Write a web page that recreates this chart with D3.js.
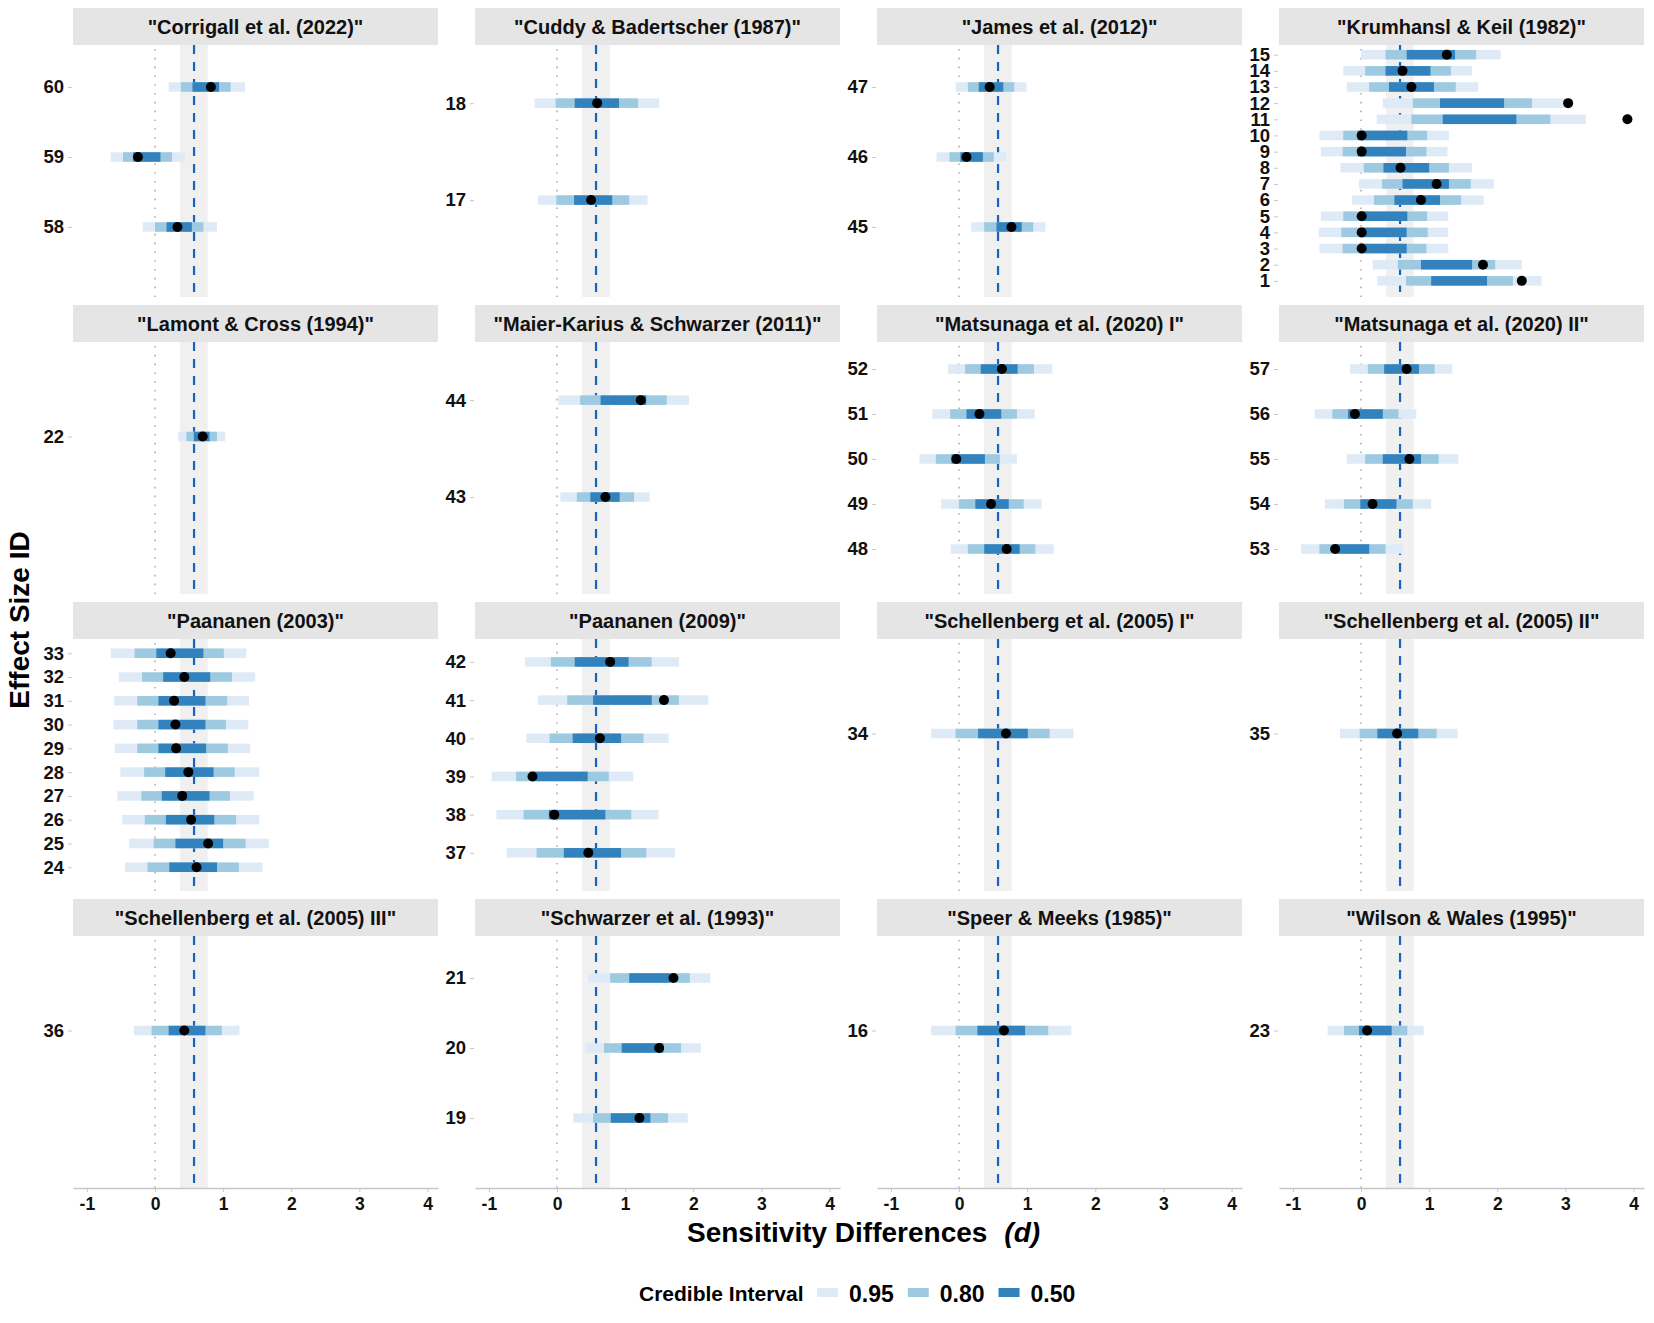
<!DOCTYPE html>
<html>
<head>
<meta charset="utf-8">
<script src="https://cdn.jsdelivr.net/npm/d3@7"></script>
<style>
  body { margin: 0; background: #fff; }
  svg { font-family: "Liberation Sans", Arial, sans-serif; font-weight: bold; }
</style>
</head>
<body>
<svg width="1654" height="1323"></svg>
<script>
// facet panels, in the order they are laid out (4 per row)
var studies = ["Corrigall et al. (2022)", "Cuddy & Badertscher (1987)", "James et al. (2012)", "Krumhansl & Keil (1982)",
               "Lamont & Cross (1994)", "Maier-Karius & Schwarzer (2011)", "Matsunaga et al. (2020) I", "Matsunaga et al. (2020) II",
               "Paananen (2003)", "Paananen (2009)", "Schellenberg et al. (2005) I", "Schellenberg et al. (2005) II",
               "Schellenberg et al. (2005) III", "Schwarzer et al. (1993)", "Speer & Meeks (1985)", "Wilson & Wales (1995)"];

// effect sizes 1..60
var effectId = [1, 2, 3, 4, 5, 6, 7, 8, 9, 10, 11, 12, 13, 14, 15, 16, 17, 18, 19, 20,
                21, 22, 23, 24, 25, 26, 27, 28, 29, 30, 31, 32, 33, 34, 35, 36, 37, 38, 39, 40,
                41, 42, 43, 44, 45, 46, 47, 48, 49, 50, 51, 52, 53, 54, 55, 56, 57, 58, 59, 60];
// index into studies
var effectStudy = [3, 3, 3, 3, 3, 3, 3, 3, 3, 3, 3, 3, 3, 3, 3, 14, 1, 1, 13, 13,
                   13, 4, 15, 8, 8, 8, 8, 8, 8, 8, 8, 8, 8, 10, 11, 12, 9, 9, 9, 9,
                   9, 9, 5, 5, 2, 2, 2, 6, 6, 6, 6, 6, 7, 7, 7, 7, 7, 0, 0, 0];

var pointEst = [2.36, 1.79, 0.01, 0.01, 0.01, 0.88, 1.11, 0.58, 0.01, 0.01, 3.91, 3.04, 0.74, 0.61, 1.26, 0.66, 0.50, 0.59, 1.21, 1.50,
                1.71, 0.70, 0.09, 0.61, 0.78, 0.53, 0.40, 0.49, 0.31, 0.30, 0.28, 0.43, 0.23, 0.69, 0.53, 0.43, 0.46, -0.04, -0.36, 0.63,
                1.57, 0.78, 0.71, 1.23, 0.77, 0.11, 0.45, 0.70, 0.47, -0.04, 0.30, 0.63, -0.38, 0.17, 0.71, -0.09, 0.67, 0.33, -0.25, 0.82];
var lo95 = [0.24, 0.17, -0.61, -0.62, -0.59, -0.13, -0.03, -0.30, -0.59, -0.61, 0.23, 0.32, -0.21, -0.26, 0.00, -0.41, -0.28, -0.33, 0.24, 0.41,
            0.46, 0.34, -0.49, -0.44, -0.38, -0.48, -0.55, -0.51, -0.59, -0.61, -0.60, -0.53, -0.65, -0.41, -0.31, -0.31, -0.74, -0.89, -0.96, -0.45,
            -0.28, -0.47, 0.05, 0.02, 0.18, -0.33, -0.05, -0.12, -0.26, -0.58, -0.39, -0.16, -0.88, -0.53, -0.21, -0.68, -0.16, -0.18, -0.65, 0.20];
var hi95 = [2.65, 2.36, 1.28, 1.28, 1.28, 1.80, 1.95, 1.63, 1.27, 1.29, 3.30, 3.01, 1.72, 1.63, 2.05, 1.65, 1.33, 1.50, 1.92, 2.11,
            2.25, 1.03, 0.92, 1.58, 1.67, 1.53, 1.45, 1.53, 1.40, 1.37, 1.38, 1.47, 1.34, 1.68, 1.42, 1.24, 1.73, 1.49, 1.12, 1.64,
            2.22, 1.79, 1.36, 1.94, 1.27, 0.69, 0.99, 1.39, 1.21, 0.85, 1.11, 1.37, 0.61, 1.03, 1.43, 0.81, 1.34, 0.91, 0.44, 1.32];
var lo80 = [0.66, 0.54, -0.27, -0.29, -0.26, 0.19, 0.31, 0.04, -0.27, -0.26, 0.74, 0.76, 0.12, 0.06, 0.36, -0.05, -0.01, -0.02, 0.53, 0.69,
            0.78, 0.46, -0.25, -0.11, -0.02, -0.15, -0.20, -0.16, -0.26, -0.26, -0.26, -0.19, -0.30, -0.05, -0.02, -0.05, -0.30, -0.49, -0.60, -0.11,
            0.15, -0.09, 0.29, 0.34, 0.37, -0.14, 0.13, 0.13, 0.00, -0.34, -0.13, 0.09, -0.61, -0.25, 0.06, -0.42, 0.10, 0.00, -0.47, 0.38];
var hi80 = [2.23, 1.97, 0.96, 0.98, 0.97, 1.47, 1.61, 1.29, 0.96, 0.97, 2.78, 2.51, 1.39, 1.32, 1.69, 1.31, 1.06, 1.19, 1.63, 1.82,
            1.95, 0.91, 0.68, 1.23, 1.33, 1.19, 1.10, 1.17, 1.07, 1.04, 1.06, 1.13, 1.01, 1.33, 1.11, 0.98, 1.31, 1.09, 0.76, 1.27,
            1.79, 1.39, 1.13, 1.61, 1.09, 0.51, 0.81, 1.12, 0.95, 0.60, 0.85, 1.10, 0.36, 0.76, 1.14, 0.55, 1.08, 0.71, 0.25, 1.11];
var lo50 = [1.03, 0.88, -0.02, -0.02, -0.02, 0.49, 0.61, 0.33, -0.05, -0.05, 1.20, 1.16, 0.41, 0.36, 0.67, 0.27, 0.25, 0.26, 0.79, 0.95,
            1.06, 0.57, -0.03, 0.21, 0.30, 0.16, 0.10, 0.15, 0.05, 0.05, 0.05, 0.12, 0.02, 0.28, 0.24, 0.20, 0.10, -0.12, -0.35, 0.23,
            0.53, 0.26, 0.49, 0.64, 0.55, 0.02, 0.29, 0.37, 0.24, -0.11, 0.11, 0.32, -0.38, -0.01, 0.32, -0.19, 0.34, 0.17, -0.32, 0.55];
var hi50 = [1.85, 1.63, 0.67, 0.67, 0.68, 1.16, 1.29, 1.00, 0.66, 0.68, 2.28, 2.10, 1.07, 1.02, 1.38, 0.97, 0.81, 0.91, 1.37, 1.56,
            1.66, 0.80, 0.45, 0.91, 1.00, 0.87, 0.80, 0.86, 0.75, 0.74, 0.74, 0.81, 0.71, 1.01, 0.84, 0.74, 0.94, 0.71, 0.45, 0.94,
            1.39, 1.05, 0.92, 1.31, 0.92, 0.35, 0.65, 0.89, 0.73, 0.38, 0.62, 0.86, 0.12, 0.52, 0.88, 0.32, 0.85, 0.54, 0.08, 0.94];

// pooled estimate and its interval (grey band + dashed line)
var pooledMean = 0.573, pooledLo = 0.367, pooledHi = 0.774;

var xTicks = [-1, 0, 1, 2, 3, 4];
var levels = ["0.95", "0.80", "0.50"];
var levelColors = ["#deebf7", "#9ecae1", "#3182bd"];

function main() {
    var svg = d3.select("svg");

    var colLeft = [73, 475, 877, 1279],
        rowTop = [8, 305, 602, 899],
        panelW = 365, stripH = 37, panelH = 252,
        barH = 9.5;

    var effects = effectId.map(function(id, i) {
        return {
            id: id,
            study: effectStudy[i],
            pt: pointEst[i],
            lo: [lo95[i], lo80[i], lo50[i]],
            hi: [hi95[i], hi80[i], hi50[i]]
        };
    });

    // shared x scale, 5% expansion like ggplot
    var xMin = d3.min(lo95),
        xMax = d3.max(pointEst.concat(hi95)),
        pad = (xMax - xMin) * 0.05;
    var x = d3.scaleLinear().domain([xMin - pad, xMax + pad]).range([0, panelW]);

    studies.forEach(function(name, s) {
        var col = s % 4, row = Math.floor(s / 4);
        var g = svg.append("g")
                   .attr("transform", "translate(" + colLeft[col] + "," + rowTop[row] + ")");

        // strip
        g.append("rect")
         .attr("width", panelW).attr("height", stripH)
         .attr("fill", "#e5e5e5");
        g.append("text")
         .attr("x", panelW / 2).attr("y", 26)
         .attr("text-anchor", "middle")
         .attr("font-size", 20)
         .attr("fill", "#111")
         .text('"' + name + '"');

        var p = g.append("g").attr("transform", "translate(0," + stripH + ")");

        var rows = effects.filter(function(d) { return d.study === s; })
                          .sort(function(a, b) { return a.id - b.id; });

        // free discrete y: 1 unit of space below the lowest id, 0.6 above the highest
        var y = d3.scaleLinear().domain([-1, rows.length - 0.4]).range([panelH, 0]);

        // pooled interval band
        p.append("rect")
         .attr("x", x(pooledLo)).attr("y", 0)
         .attr("width", x(pooledHi) - x(pooledLo)).attr("height", panelH)
         .attr("fill", "#f0f0f0");

        // zero line
        p.append("line")
         .attr("x1", x(0)).attr("x2", x(0))
         .attr("y1", 4).attr("y2", panelH)
         .attr("stroke", "#b0b0b0")
         .attr("stroke-width", 1.6)
         .attr("stroke-dasharray", "1.6,7.2");

        // pooled mean
        p.append("line")
         .attr("x1", x(pooledMean)).attr("x2", x(pooledMean))
         .attr("y1", 0).attr("y2", panelH)
         .attr("stroke", "#1565c0")
         .attr("stroke-width", 2.2)
         .attr("stroke-dasharray", "9,8");

        // intervals, widest first
        var item = p.selectAll(".effect")
                    .data(rows)
                    .enter().append("g")
                    .attr("class", "effect");

        levels.forEach(function(lv, k) {
            item.append("rect")
                .attr("x", function(d) { return x(d.lo[k]); })
                .attr("width", function(d) { return x(d.hi[k]) - x(d.lo[k]); })
                .attr("y", function(d, i) { return y(i) - barH / 2; })
                .attr("height", barH)
                .attr("fill", levelColors[k]);
        });

        item.append("circle")
            .attr("cx", function(d) { return x(d.pt); })
            .attr("cy", function(d, i) { return y(i); })
            .attr("r", 5)
            .attr("fill", "#000");

        // y axis
        var yAxis = d3.axisLeft(y)
                      .tickValues(d3.range(rows.length))
                      .tickFormat(function(i) { return rows[i].id; })
                      .tickSize(4)
                      .tickPadding(4);
        var ya = p.append("g").attr("transform", "translate(-1,0)").call(yAxis);
        ya.select(".domain").remove();
        ya.selectAll(".tick line").attr("stroke", "#c8c8c8");
        ya.selectAll(".tick text")
          .attr("font-size", 18.5)
          .attr("font-family", '"Liberation Sans", Arial, sans-serif')
          .attr("font-weight", "bold")
          .attr("fill", "#111");

        // x axis on the bottom row only
        if (row === 3) {
            var xAxis = d3.axisBottom(x)
                          .tickValues(xTicks)
                          .tickFormat(function(d) { return String(d); }) // plain hyphen like the original
                          .tickSize(4).tickSizeOuter(0).tickPadding(6);
            var xa = p.append("g").attr("transform", "translate(0," + panelH + ")").call(xAxis);
            xa.select(".domain").attr("stroke", "#c8c8c8").attr("stroke-width", 1.5);
            xa.selectAll(".tick line").attr("stroke", "#c8c8c8");
            xa.selectAll(".tick text")
              .attr("font-size", 17.5)
              .attr("font-family", '"Liberation Sans", Arial, sans-serif')
              .attr("font-weight", "bold")
              .attr("fill", "#111");
        }
    });

    // axis titles
    svg.append("text")
       .attr("transform", "translate(29,620) rotate(-90)")
       .attr("text-anchor", "middle")
       .attr("font-size", 28)
       .text("Effect Size ID");

    var xt = svg.append("text")
                .attr("x", 687).attr("y", 1242)
                .attr("font-size", 28);
    xt.append("tspan").text("Sensitivity Differences");
    xt.append("tspan").attr("dx", 17).attr("font-style", "italic").text("(d)");

    // legend
    var legend = svg.append("g");
    legend.append("text")
          .attr("x", 639).attr("y", 1301)
          .attr("font-size", 21)
          .text("Credible Interval");

    var sx = 817;
    levels.forEach(function(lv, k) {
        legend.append("rect")
              .attr("x", sx).attr("y", 1288)
              .attr("width", 21).attr("height", 9)
              .attr("fill", levelColors[k]);
        var t = legend.append("text")
                      .attr("x", sx + 32).attr("y", 1302)
                      .attr("font-size", 23)
                      .text(lv);
        sx = sx + 32 + t.node().getComputedTextLength() + 14;
    });
}

main();
</script>
</body>
</html>
